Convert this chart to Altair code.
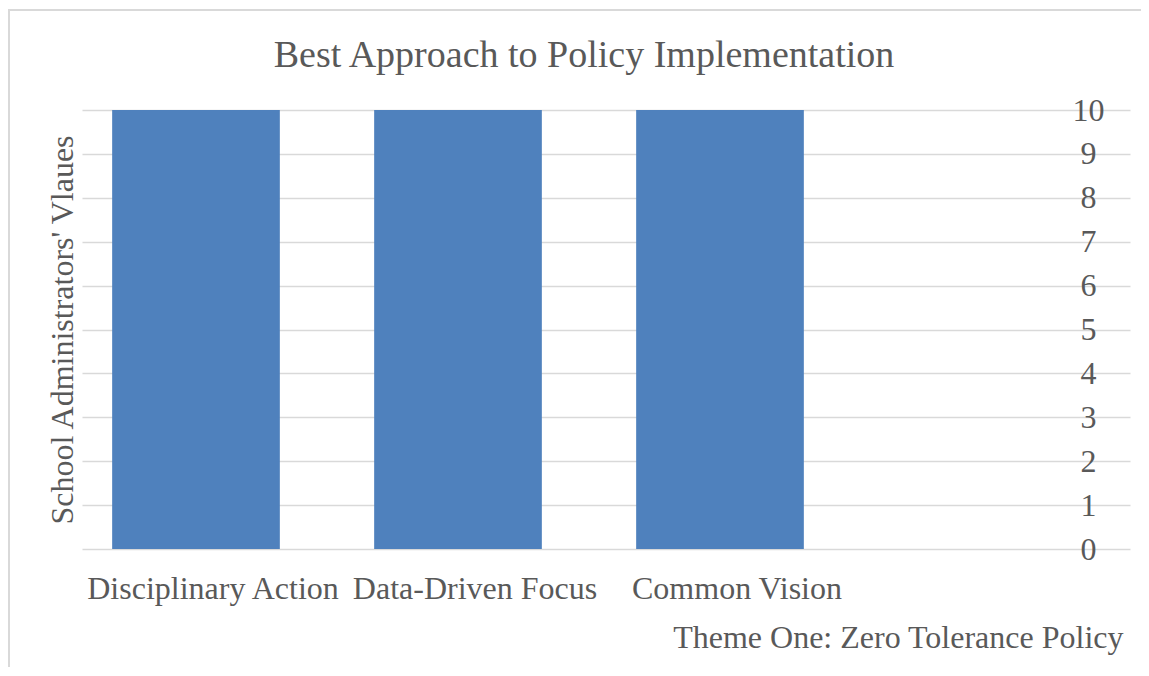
import altair as alt
import pandas as pd

categories = ["Disciplinary Action", "Data-Driven Focus", "Common Vision"]
values = [10, 10, 10]
domain_slots = categories + [" "]
y_ticks = [0, 1, 2, 3, 4, 5, 6, 7, 8, 9, 10]

df = pd.DataFrame({"category": categories, "value": values})

FONT = "Liberation Serif"
GRAY = "#595959"

bars = alt.Chart(df).mark_bar(
    color="#4f81bd",
    width=alt.RelativeBandSize(0.64),
    xOffset=-17,
).encode(
    x=alt.X(
        "category:N",
        sort=domain_slots,
        scale=alt.Scale(domain=domain_slots, paddingInner=0, paddingOuter=0),
        axis=alt.Axis(
            title="Theme One: Zero Tolerance Policy",
            labelAngle=0,
            labelFont=FONT,
            labelFontSize=32,
            labelColor=GRAY,
            labelBaseline="alphabetic",
            labelPadding=49,
            labelLimit=1000,
            labelOverlap=False,
            ticks=False,
            tickSize=0,
            domain=False,
            grid=False,
            titleFont=FONT,
            titleFontSize=32,
            titleFontWeight="normal",
            titleColor=GRAY,
            titleAlign="right",
            titleBaseline="alphabetic",
            titleX=1041,
            titleY=98,
        ),
    ),
    y=alt.Y(
        "value:Q",
        scale=alt.Scale(domain=[0, 10], nice=False),
        axis=alt.Axis(
            orient="right",
            offset=-42,
            values=y_ticks,
            title="School Administrators' Vlaues",
            labelFont=FONT,
            labelFontSize=32,
            labelColor=GRAY,
            labelAlign="center",
            labelBaseline="middle",
            labelPadding=0,
            ticks=False,
            tickSize=0,
            domain=False,
            grid=True,
            gridColor="#d9d9d9",
            gridWidth=1.5,
            titleFont=FONT,
            titleFontSize=32,
            titleFontWeight="normal",
            titleColor=GRAY,
            titleAngle=270,
            titleAlign="center",
            titleBaseline="alphabetic",
            titleX=-1016,
            titleY=219.5,
        ),
    ),
)

border = alt.Chart(alt.Data(values=[{}])).mark_rect(
    fill=None, filled=False, stroke="#d9d9d9", strokeWidth=2
).encode(
    x=alt.value(-73),
    x2=alt.value(1090),
    y=alt.value(-100),
    y2=alt.value(600),
)

chart = alt.layer(border, bars).properties(
    width=1048,
    height=439,
    title=alt.TitleParams(
        "Best Approach to Policy Implementation",
        font=FONT,
        fontSize=38,
        fontWeight="normal",
        color=GRAY,
        anchor="middle",
        frame="group",
        dx=-22,
        offset=-96,
        baseline="alphabetic",
    ),
    autosize=alt.AutoSizeParams(type="none"),
    padding={"left": 74, "top": 102, "right": 11, "bottom": 118},
).configure(background="white").configure_view(stroke="transparent", strokeWidth=0)

chart.save("out.html", embed_options={"renderer": "svg", "actions": False})
